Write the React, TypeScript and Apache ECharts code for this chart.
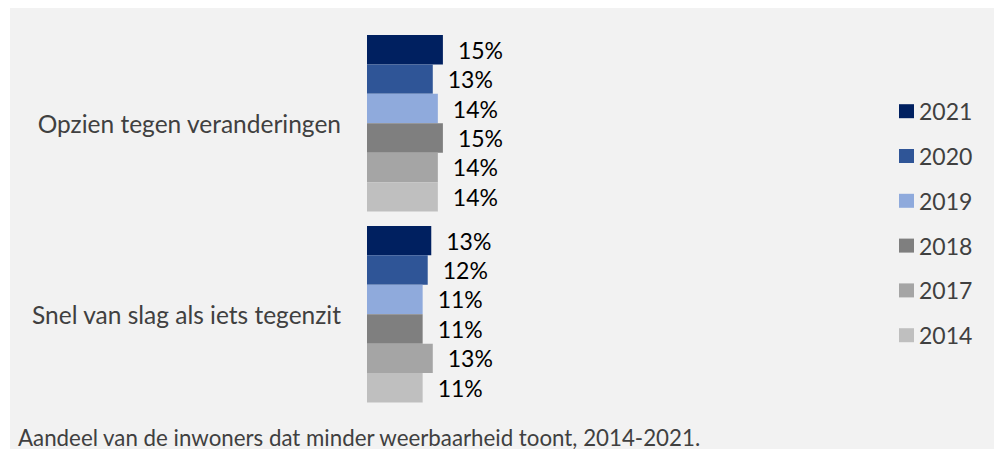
import React, { useEffect, useRef } from "react";
import * as echarts from "echarts";

const categories = ["Opzien tegen veranderingen", "Snel van slag als iets tegenzit"];
const years = ["2021", "2020", "2019", "2018", "2017", "2014"];
const colors = ["#002060", "#2f5597", "#8faadc", "#7f7f7f", "#a5a5a5", "#bfbfbf"];
const v2021 = [15, 12.7];
const v2020 = [13, 12];
const v2019 = [14, 11];
const v2018 = [15, 11];
const v2017 = [14, 13];
const v2014 = [14, 11];
const seriesValues = [v2021, v2020, v2019, v2018, v2017, v2014];
const caption = "Aandeel van de inwoners dat minder weerbaarheid toont, 2014-2021.";

const FONT = "Lato, 'Open Sans', sans-serif";

export default function App() {
  const ref = useRef<HTMLDivElement>(null);
  useEffect(() => {
    if (!ref.current) return;
    const chart = echarts.init(ref.current, undefined, { renderer: "svg" });
    chart.setOption({
      animation: false,
      backgroundColor: "#ffffff",
      textStyle: { fontFamily: FONT },
      graphic: [
        {
          type: "rect",
          z: -10,
          silent: true,
          shape: { x: 10, y: 8, width: 984, height: 441 },
          style: { fill: "#f2f2f2" },
        },
        {
          type: "text",
          x: 18,
          y: 437,
          style: {
            text: caption,
            fontSize: 22.3,
            fontFamily: FONT,
            fill: "#404040",
            verticalAlign: "middle",
          },
        },
      ],
      grid: { left: 367, top: 27.85, height: 381.8, width: 506, containLabel: false },
      xAxis: {
        type: "value",
        min: 0,
        max: 100,
        show: false,
      },
      yAxis: {
        type: "category",
        data: categories,
        inverse: true,
        axisLine: { show: false },
        axisTick: { show: false },
        splitLine: { show: false },
        axisLabel: {
          fontSize: 24.5,
          color: "#404040",
          fontFamily: FONT,
          margin: 26,
        },
      },
      legend: {
        orient: "vertical",
        left: 899,
        top: 99.7,
        padding: 0,
        icon: "rect",
        itemWidth: 15,
        itemHeight: 14,
        itemGap: 21.8,
        data: years,
        textStyle: { fontSize: 23, color: "#404040", fontFamily: FONT, lineHeight: 22 },
      },
      series: years.map((y, i) => ({
        name: y,
        type: "bar",
        data: seriesValues[i],
        barGap: "0%",
        barCategoryGap: "7.5%",
        itemStyle: { color: colors[i] },
        label: {
          show: true,
          position: "right",
          distance: 15,
          color: "#000000",
          fontSize: 23,
          fontFamily: FONT,
          formatter: (p: any) => Math.round(p.value) + "%",
        },
      })),
    });
    return () => chart.dispose();
  }, []);
  return (
    <div
      ref={ref}
      style={{ position: "absolute", left: 0, top: 0, width: 994, height: 449 }}
    />
  );
}
